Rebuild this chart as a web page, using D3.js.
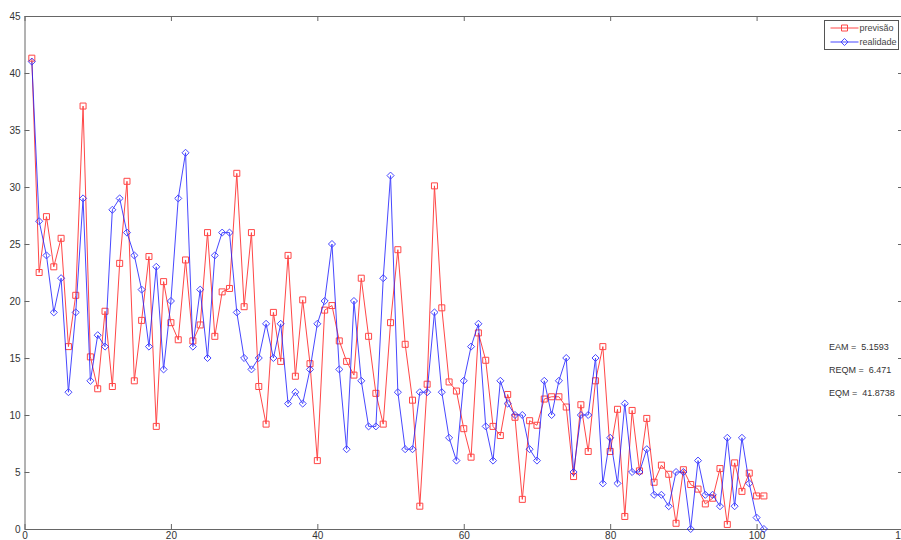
<!DOCTYPE html>
<html lang="en">
<head>
  <meta charset="utf-8" />
  <title>previsão x realidade</title>
  <script type="text/javascript" src="https://cdn.jsdelivr.net/npm/d3@7"></script>
  <style type="text/css">
    body { margin: 0; background: white; }
    .axis text { font-family: "Liberation Sans", Arial, sans-serif; font-size: 10px; fill: #333; }
    .axis path, .axis line { stroke: #666; }
    .stat { white-space: pre; }
  </style>
</head>
<body>

<script type="text/javascript">

// realidade (observed) and previsão (forecast), x = 1..101
var realidade = [41, 27, 24, 19, 22, 12, 19, 29, 13, 17, 16, 28, 29, 26, 24, 21, 16, 23, 14, 20,
  29, 33, 16, 21, 15, 24, 26, 26, 19, 15, 14, 15, 18, 15, 18, 11, 12, 11, 14, 18,
  20, 25, 14, 7, 20, 13, 9, 9, 22, 31, 12, 7, 7, 12, 12, 19, 12, 8, 6, 13,
  16, 18, 9, 6, 13, 11, 10, 10, 7, 6, 13, 10, 13, 15, 5, 10, 10, 15, 4, 8,
  4, 11, 5, 5, 7, 3, 3, 2, 5, 5, 0, 6, 3, 3, 2, 8, 2, 8, 4, 1, 0];
var previsao = [41.3, 22.5, 27.4, 23.0, 25.5, 16.0, 20.5, 37.1, 15.1, 12.3, 19.1, 12.5, 23.3, 30.5, 13.0, 18.3, 23.9, 9.0, 21.7, 18.1,
  16.6, 23.6, 16.5, 17.9, 26.0, 16.9, 20.8, 21.1, 31.2, 19.5, 26.0, 12.5, 9.2, 19.0, 14.7, 24.0, 13.4, 20.1, 14.5, 6.0,
  19.2, 19.6, 16.5, 14.7, 13.5, 22.0, 16.9, 11.9, 9.2, 18.1, 24.5, 16.2, 11.3, 2.0, 12.7, 30.1, 19.4, 12.9, 12.1, 8.8,
  6.3, 17.2, 14.8, 9.0, 8.2, 11.8, 9.8, 2.6, 9.5, 9.1, 11.4, 11.6, 11.6, 10.7, 4.6, 10.9, 6.8, 13.0, 16.0, 6.8,
  10.5, 1.1, 10.4, 5.1, 9.7, 4.1, 5.6, 4.8, 0.5, 5.2, 3.9, 3.5, 2.2, 2.7, 5.3, 0.4, 5.8, 3.3, 4.9, 2.9, 2.9];
var xTicks = [0, 20, 40, 60, 80, 100, 120];
var yTicks = [0, 5, 10, 15, 20, 25, 30, 35, 40, 45];
var stats = ["EAM =  5.1593", "REQM =  6.471", "EQM =  41.8738"];

var w = 901;
var h = 540;
var pad = {left: 24.5, right: -2, top: 16, bottom: 11};

var xScale = d3.scaleLinear()
               .domain([0, 120])
               .range([pad.left, w - pad.right]);
var yScale = d3.scaleLinear()
               .domain([0, 45])
               .range([h - pad.bottom, pad.top]);

var svg = d3.select("body")
            .append("svg")
            .attr("width", w)
            .attr("height", h);

// axes, ticks pointing inwards like matlab
svg.append("g")
   .attr("class", "axis")
   .attr("transform", "translate(0," + yScale(0) + ")")
   .call(d3.axisBottom(xScale).tickValues(xTicks).tickSizeInner(-5).tickSizeOuter(0).tickPadding(3));
svg.append("g")
   .attr("class", "axis")
   .attr("transform", "translate(0," + yScale(45) + ")")
   .call(d3.axisTop(xScale).tickValues(xTicks).tickSizeInner(-5).tickSizeOuter(0).tickFormat(""));
svg.append("g")
   .attr("class", "axis")
   .attr("transform", "translate(" + xScale(0) + ",0)")
   .call(d3.axisLeft(yScale).tickValues(yTicks).tickSizeInner(-5).tickSizeOuter(0).tickPadding(4));
svg.append("g")
   .attr("class", "axis")
   .attr("transform", "translate(" + xScale(120) + ",0)")
   .call(d3.axisRight(yScale).tickValues(yTicks).tickSizeInner(-5).tickSizeOuter(0).tickFormat(""));

var diamond = {
  draw: function(ctx, size) {
    var r = Math.sqrt(size) / 2;
    ctx.moveTo(0, -r); ctx.lineTo(r, 0); ctx.lineTo(0, r); ctx.lineTo(-r, 0); ctx.closePath();
  }
};
var square = {
  draw: function(ctx, size) {
    var r = Math.sqrt(size) / 2;
    ctx.rect(-r, -r, 2 * r, 2 * r);
  }
};

var series = [
  {name: "previsão", values: previsao, color: "#ff1a1a", symbol: square, size: 36},
  {name: "realidade", values: realidade, color: "#1a1aff", symbol: diamond, size: 50}
];

var line = d3.line()
             .x(function(d, i) { return xScale(i + 1); })
             .y(function(d) { return yScale(d); });

series.forEach(function(s) {
  var g = svg.append("g").attr("opacity", 0.8);
  g.append("path")
   .attr("d", line(s.values))
   .attr("fill", "none")
   .attr("stroke", s.color)
   .attr("stroke-width", 1);
  g.selectAll("path.m")
   .data(s.values)
   .enter()
   .append("path")
   .attr("class", "m")
   .attr("transform", function(d, i) { return "translate(" + xScale(i + 1) + "," + yScale(d) + ")"; })
   .attr("d", d3.symbol().type(s.symbol).size(s.size))
   .attr("fill", "none")
   .attr("stroke", s.color)
   .attr("stroke-width", 1);
});

// legend
var lg = svg.append("g").attr("transform", "translate(824.5,20.5)");
lg.append("rect")
  .attr("width", 74)
  .attr("height", 29)
  .attr("fill", "white")
  .attr("stroke", "#555");
series.forEach(function(s, i) {
  var yy = 7.5 + i * 14;
  var row = lg.append("g").attr("opacity", 0.8);
  row.append("line")
     .attr("x1", 6).attr("x2", 34).attr("y1", yy).attr("y2", yy)
     .attr("stroke", s.color);
  row.append("path")
     .attr("transform", "translate(20," + yy + ")")
     .attr("d", d3.symbol().type(s.symbol).size(s.size))
     .attr("fill", "none")
     .attr("stroke", s.color);
  lg.append("text")
    .attr("x", 35).attr("y", yy + 3)
    .attr("font-family", "Liberation Sans, Arial, sans-serif")
    .attr("font-size", 9)
    .attr("fill", "#444")
    .text(s.name);
});

// error measures
svg.selectAll("text.stat")
   .data(stats)
   .enter()
   .append("text")
   .attr("class", "stat")
   .attr("x", 829)
   .attr("y", function(d, i) { return 350 + i * 23; })
   .attr("font-family", "Liberation Sans, Arial, sans-serif")
   .attr("font-size", 9)
   .attr("fill", "#333")
   .text(function(d) { return d; });

</script>

</body>
</html>
